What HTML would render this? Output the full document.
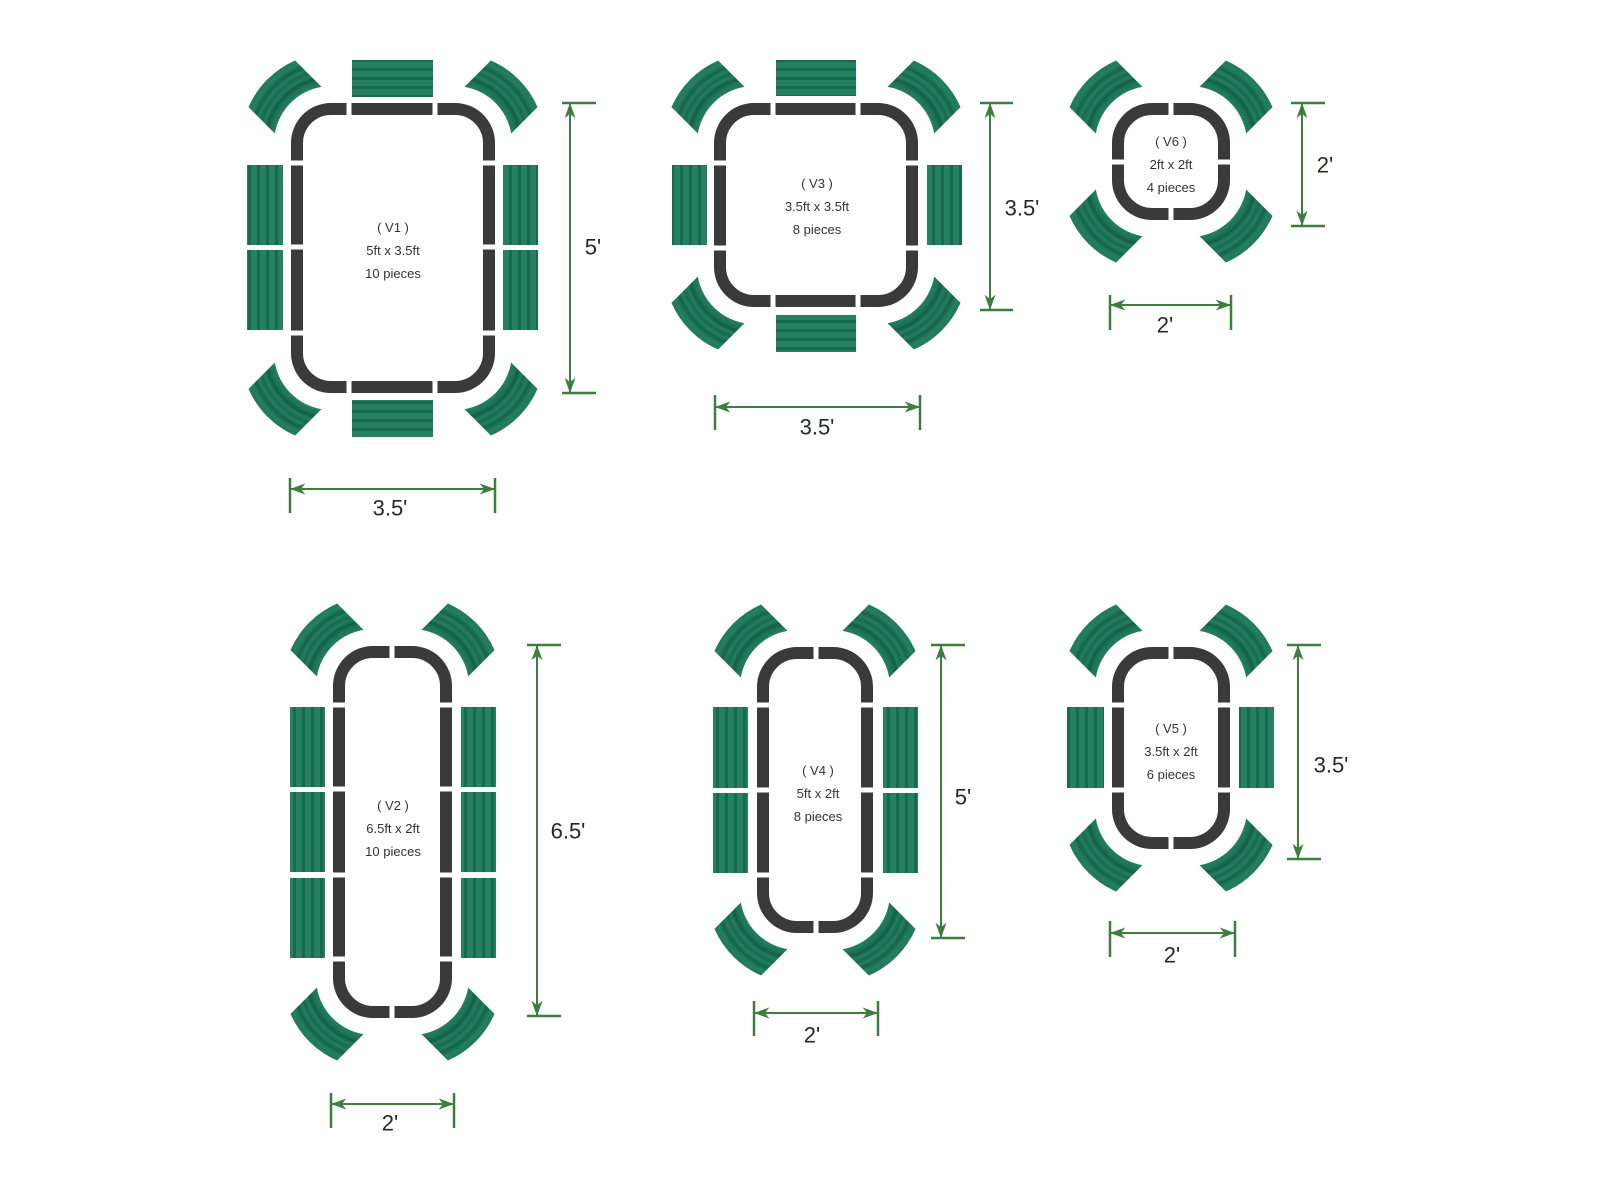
<!DOCTYPE html>
<html><head><meta charset="utf-8"><style>
html,body{margin:0;padding:0;background:#fff;}
svg{display:block;}
.t{font-family:"Liberation Sans",sans-serif;font-size:13px;fill:#333;text-anchor:middle;}
.d{font-family:"Liberation Sans",sans-serif;font-size:22px;fill:#1e2a22;text-anchor:middle;dominant-baseline:central;}
.tb{fill:none;stroke:#3a3a3a;stroke-width:12;}
.dl{stroke:#3d7d3d;stroke-width:2;fill:none;}
.tk{stroke:#3d7d3d;stroke-width:2.5;}
</style></head><body>
<svg width="1600" height="1200" viewBox="0 0 1600 1200" xmlns="http://www.w3.org/2000/svg">
<defs>
<radialGradient id="rg" gradientUnits="userSpaceOnUse" cx="0" cy="0" r="90">
<stop offset="0.63" stop-color="#247e60"/>
<stop offset="0.69" stop-color="#1d7457"/>
<stop offset="0.73" stop-color="#125e46"/>
<stop offset="0.77" stop-color="#247e60"/>
<stop offset="0.81" stop-color="#176a4f"/>
<stop offset="0.85" stop-color="#247e60"/>
<stop offset="0.89" stop-color="#14644a"/>
<stop offset="0.94" stop-color="#247e60"/>
<stop offset="1" stop-color="#20795b"/>
</radialGradient>
<pattern id="pv" patternUnits="userSpaceOnUse" width="9" height="9">
<rect width="9" height="9" fill="#268062"/><rect x="5" width="3" height="9" fill="#176a4e"/>
</pattern>
<pattern id="ph" patternUnits="userSpaceOnUse" width="9" height="9">
<rect width="9" height="9" fill="#268062"/><rect y="5" width="9" height="3" fill="#176a4e"/>
</pattern>
<path id="sec" d="M 46.4,-33 L 83.7,-33 A 90 90 0 0 1 83.7,33 L 46.4,33 A 57 57 0 0 0 46.4,-33 Z" fill="url(#rg)"/>
<marker id="ar" viewBox="0 0 14 10" refX="13" refY="5" markerWidth="16" markerHeight="11" markerUnits="userSpaceOnUse" orient="auto-start-reverse">
<path d="M0,0 L14,5 L0,10 L4,5 Z" fill="#3d7d3d"/>
</marker>
</defs>

<!-- V1 -->
<rect class="tb" x="297" y="109" width="192" height="278" rx="34"/>
<g fill="#fff"><rect x="346.5" y="100" width="5" height="16"/><rect x="432.5" y="100" width="5" height="16"/>
<rect x="346.5" y="380" width="5" height="16"/><rect x="432.5" y="380" width="5" height="16"/>
<rect x="288" y="160.5" width="16" height="5"/><rect x="288" y="244.5" width="16" height="5"/><rect x="288" y="330.5" width="16" height="5"/>
<rect x="482" y="160.5" width="16" height="5"/><rect x="482" y="244.5" width="16" height="5"/><rect x="482" y="330.5" width="16" height="5"/></g>
<rect x="352" y="60" width="81" height="37" fill="url(#ph)"/><rect x="352" y="400" width="81" height="37" fill="url(#ph)"/>
<rect x="247" y="165" width="36" height="80" fill="url(#pv)"/><rect x="247" y="250" width="36" height="80" fill="url(#pv)"/>
<rect x="503" y="165" width="35" height="80" fill="url(#pv)"/><rect x="503" y="250" width="35" height="80" fill="url(#pv)"/>
<use href="#sec" transform="translate(331,143) rotate(225)"/><use href="#sec" transform="translate(455,143) rotate(315)"/>
<use href="#sec" transform="translate(331,353) rotate(135)"/><use href="#sec" transform="translate(455,353) rotate(45)"/>
<text class="t" x="393" y="232">( V1 )</text><text class="t" x="393" y="255">5ft x 3.5ft</text><text class="t" x="393" y="278">10 pieces</text>
<line class="dl" x1="570" y1="104" x2="570" y2="392" marker-start="url(#ar)" marker-end="url(#ar)"/>
<line class="tk" x1="562" y1="103" x2="596" y2="103"/><line class="tk" x1="562" y1="393" x2="596" y2="393"/>
<text class="d" x="593" y="247">5'</text>
<line class="dl" x1="291" y1="489" x2="494" y2="489" marker-start="url(#ar)" marker-end="url(#ar)"/>
<line class="tk" x1="290" y1="478" x2="290" y2="513"/><line class="tk" x1="495" y1="478" x2="495" y2="513"/>
<text class="d" x="390" y="508">3.5'</text>

<!-- V3 -->
<rect class="tb" x="720" y="109" width="192" height="192" rx="34"/>
<g fill="#fff"><rect x="770.5" y="100" width="5" height="16"/><rect x="855.5" y="100" width="5" height="16"/>
<rect x="770.5" y="294" width="5" height="16"/><rect x="855.5" y="294" width="5" height="16"/>
<rect x="711" y="160.5" width="16" height="5"/><rect x="711" y="245.5" width="16" height="5"/>
<rect x="905" y="160.5" width="16" height="5"/><rect x="905" y="245.5" width="16" height="5"/></g>
<rect x="776" y="60" width="80" height="36" fill="url(#ph)"/><rect x="776" y="315" width="80" height="37" fill="url(#ph)"/>
<rect x="672" y="165" width="35" height="80" fill="url(#pv)"/><rect x="927" y="165" width="35" height="80" fill="url(#pv)"/>
<use href="#sec" transform="translate(754,143) rotate(225)"/><use href="#sec" transform="translate(878,143) rotate(315)"/>
<use href="#sec" transform="translate(754,267) rotate(135)"/><use href="#sec" transform="translate(878,267) rotate(45)"/>
<text class="t" x="817" y="188">( V3 )</text><text class="t" x="817" y="211">3.5ft x 3.5ft</text><text class="t" x="817" y="234">8 pieces</text>
<line class="dl" x1="990" y1="104" x2="990" y2="309" marker-start="url(#ar)" marker-end="url(#ar)"/>
<line class="tk" x1="980" y1="103" x2="1013" y2="103"/><line class="tk" x1="980" y1="310" x2="1013" y2="310"/>
<text class="d" x="1022" y="208">3.5'</text>
<line class="dl" x1="716" y1="407" x2="919" y2="407" marker-start="url(#ar)" marker-end="url(#ar)"/>
<line class="tk" x1="715" y1="395" x2="715" y2="430"/><line class="tk" x1="920" y1="395" x2="920" y2="430"/>
<text class="d" x="817" y="427">3.5'</text>

<!-- V6 -->
<rect class="tb" x="1118" y="109" width="106" height="105" rx="34"/>
<g fill="#fff"><rect x="1168.5" y="100" width="5" height="16"/><rect x="1168.5" y="207" width="5" height="16"/>
<rect x="1109" y="159.5" width="16" height="5"/><rect x="1217" y="159.5" width="16" height="5"/></g>
<use href="#sec" transform="translate(1152,143) rotate(225)"/><use href="#sec" transform="translate(1190,143) rotate(315)"/>
<use href="#sec" transform="translate(1152,180) rotate(135)"/><use href="#sec" transform="translate(1190,180) rotate(45)"/>
<text class="t" x="1171" y="146">( V6 )</text><text class="t" x="1171" y="169">2ft x 2ft</text><text class="t" x="1171" y="192">4 pieces</text>
<line class="dl" x1="1302" y1="104" x2="1302" y2="225" marker-start="url(#ar)" marker-end="url(#ar)"/>
<line class="tk" x1="1291" y1="103" x2="1325" y2="103"/><line class="tk" x1="1291" y1="226" x2="1325" y2="226"/>
<text class="d" x="1325" y="165">2'</text>
<line class="dl" x1="1111" y1="305" x2="1230" y2="305" marker-start="url(#ar)" marker-end="url(#ar)"/>
<line class="tk" x1="1110" y1="295" x2="1110" y2="330"/><line class="tk" x1="1231" y1="295" x2="1231" y2="330"/>
<text class="d" x="1165" y="325">2'</text>

<!-- V2 -->
<rect class="tb" x="339" y="652" width="107" height="360" rx="34"/>
<g fill="#fff"><rect x="389.5" y="643" width="5" height="16"/><rect x="389.5" y="1005" width="5" height="16"/>
<rect x="330" y="702.5" width="16" height="5"/><rect x="330" y="786.5" width="16" height="5"/><rect x="330" y="872.5" width="16" height="5"/><rect x="330" y="956.5" width="16" height="5"/>
<rect x="439" y="702.5" width="16" height="5"/><rect x="439" y="786.5" width="16" height="5"/><rect x="439" y="872.5" width="16" height="5"/><rect x="439" y="956.5" width="16" height="5"/></g>
<rect x="290" y="707" width="35" height="80" fill="url(#pv)"/><rect x="290" y="792" width="35" height="80" fill="url(#pv)"/><rect x="290" y="878" width="35" height="80" fill="url(#pv)"/>
<rect x="461" y="707" width="35" height="80" fill="url(#pv)"/><rect x="461" y="792" width="35" height="80" fill="url(#pv)"/><rect x="461" y="878" width="35" height="80" fill="url(#pv)"/>
<use href="#sec" transform="translate(373,686) rotate(225)"/><use href="#sec" transform="translate(412,686) rotate(315)"/>
<use href="#sec" transform="translate(373,978) rotate(135)"/><use href="#sec" transform="translate(412,978) rotate(45)"/>
<text class="t" x="393" y="810">( V2 )</text><text class="t" x="393" y="833">6.5ft x 2ft</text><text class="t" x="393" y="856">10 pieces</text>
<line class="dl" x1="537" y1="646" x2="537" y2="1015" marker-start="url(#ar)" marker-end="url(#ar)"/>
<line class="tk" x1="527" y1="645" x2="561" y2="645"/><line class="tk" x1="527" y1="1016" x2="561" y2="1016"/>
<text class="d" x="568" y="831">6.5'</text>
<line class="dl" x1="332" y1="1104" x2="453" y2="1104" marker-start="url(#ar)" marker-end="url(#ar)"/>
<line class="tk" x1="331" y1="1093" x2="331" y2="1128"/><line class="tk" x1="454" y1="1093" x2="454" y2="1128"/>
<text class="d" x="390" y="1123">2'</text>

<!-- V4 -->
<rect class="tb" x="763" y="653" width="104" height="274" rx="34"/>
<g fill="#fff"><rect x="813.5" y="644" width="5" height="16"/><rect x="813.5" y="920" width="5" height="16"/>
<rect x="754" y="702.5" width="16" height="5"/><rect x="754" y="787.5" width="16" height="5"/><rect x="754" y="872.5" width="16" height="5"/>
<rect x="860" y="702.5" width="16" height="5"/><rect x="860" y="787.5" width="16" height="5"/><rect x="860" y="872.5" width="16" height="5"/></g>
<rect x="713" y="707" width="35" height="81" fill="url(#pv)"/><rect x="713" y="793" width="35" height="80" fill="url(#pv)"/>
<rect x="883" y="707" width="35" height="81" fill="url(#pv)"/><rect x="883" y="793" width="35" height="80" fill="url(#pv)"/>
<use href="#sec" transform="translate(797,687) rotate(225)"/><use href="#sec" transform="translate(833,687) rotate(315)"/>
<use href="#sec" transform="translate(797,893) rotate(135)"/><use href="#sec" transform="translate(833,893) rotate(45)"/>
<text class="t" x="818" y="775">( V4 )</text><text class="t" x="818" y="798">5ft x 2ft</text><text class="t" x="818" y="821">8 pieces</text>
<line class="dl" x1="941" y1="646" x2="941" y2="937" marker-start="url(#ar)" marker-end="url(#ar)"/>
<line class="tk" x1="931" y1="645" x2="965" y2="645"/><line class="tk" x1="931" y1="938" x2="965" y2="938"/>
<text class="d" x="963" y="797">5'</text>
<line class="dl" x1="755" y1="1013" x2="877" y2="1013" marker-start="url(#ar)" marker-end="url(#ar)"/>
<line class="tk" x1="754" y1="1001" x2="754" y2="1036"/><line class="tk" x1="878" y1="1001" x2="878" y2="1036"/>
<text class="d" x="812" y="1035">2'</text>

<!-- V5 -->
<rect class="tb" x="1118" y="653" width="106" height="190" rx="34"/>
<g fill="#fff"><rect x="1168.5" y="644" width="5" height="16"/><rect x="1168.5" y="836" width="5" height="16"/>
<rect x="1109" y="702.5" width="16" height="5"/><rect x="1109" y="787.5" width="16" height="5"/>
<rect x="1217" y="702.5" width="16" height="5"/><rect x="1217" y="787.5" width="16" height="5"/></g>
<rect x="1067" y="707" width="37" height="81" fill="url(#pv)"/><rect x="1239" y="707" width="35" height="81" fill="url(#pv)"/>
<use href="#sec" transform="translate(1152,687) rotate(225)"/><use href="#sec" transform="translate(1190,687) rotate(315)"/>
<use href="#sec" transform="translate(1152,809) rotate(135)"/><use href="#sec" transform="translate(1190,809) rotate(45)"/>
<text class="t" x="1171" y="733">( V5 )</text><text class="t" x="1171" y="756">3.5ft x 2ft</text><text class="t" x="1171" y="779">6 pieces</text>
<line class="dl" x1="1298" y1="646" x2="1298" y2="858" marker-start="url(#ar)" marker-end="url(#ar)"/>
<line class="tk" x1="1287" y1="645" x2="1321" y2="645"/><line class="tk" x1="1287" y1="859" x2="1321" y2="859"/>
<text class="d" x="1331" y="765">3.5'</text>
<line class="dl" x1="1111" y1="933" x2="1234" y2="933" marker-start="url(#ar)" marker-end="url(#ar)"/>
<line class="tk" x1="1110" y1="921" x2="1110" y2="957"/><line class="tk" x1="1235" y1="921" x2="1235" y2="957"/>
<text class="d" x="1172" y="955">2'</text>
</svg>
</body></html>
